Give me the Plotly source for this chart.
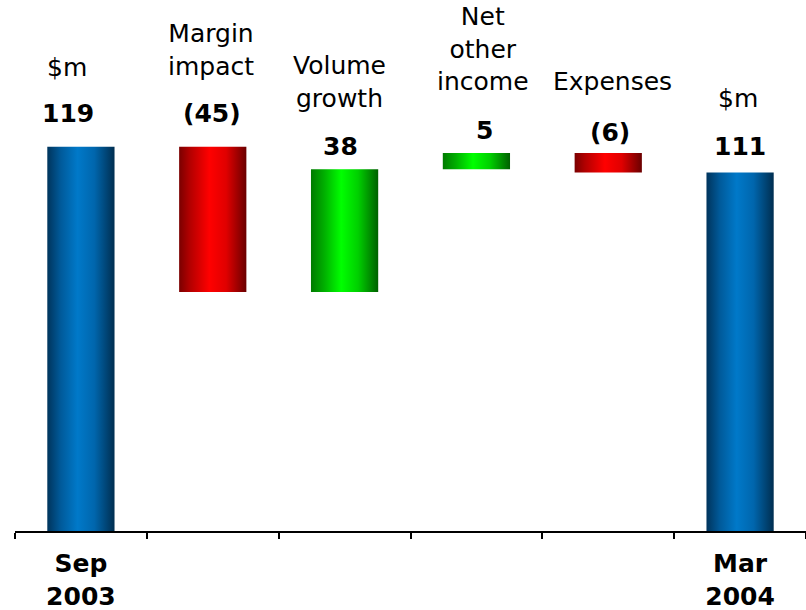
import plotly.graph_objects as go

# Bridge of profit from Sep 2003 to Mar 2004 ($m)
categories = ["Sep 2003", "Margin impact", "Volume growth", "Net other income", "Expenses", "Mar 2004"]
header_labels = ["$m", "Margin<br>impact", "Volume<br>growth", "Net<br>other<br>income", "Expenses", "$m"]
axis_labels = ["<b>Sep</b><br><b>2003</b>", "", "", "", "", "<b>Mar</b><br><b>2004</b>"]
opening = 119
movements = [-45, 38, 5, -6]
closing = 111

FONT = "DejaVu Sans"
W, H = 806, 610
PLOT_H = 531  # pixel height of the plotting area (axis line sits at its bottom)

BLUE = [[0, "#00345c"], [0.2, "#005a9a"], [0.45, "#0079c9"], [0.7, "#0066ad"], [1, "#002e50"]]
RED = [[0, "#7a0000"], [0.15, "#b00000"], [0.45, "#ff0000"], [0.7, "#e00000"], [1, "#6a0000"]]
GREEN = [[0, "#007a00"], [0.2, "#00b000"], [0.45, "#00ff00"], [0.7, "#00d000"], [1, "#006000"]]

# build (low, high, value, colorscale) for each column
bars = [(0, opening, opening, BLUE)]
running = opening
for d in movements:
    nxt = running + d
    bars.append((min(running, nxt), max(running, nxt), d, GREEN if d > 0 else RED))
    running = nxt
bars.append((0, closing, closing, BLUE))

half = 0.255
fig = go.Figure()
for i, (lo, hi, val, cs) in enumerate(bars):
    fig.add_trace(go.Scatter(
        x=[i - half, i + half, i + half, i - half, i - half],
        y=[lo, lo, hi, hi, lo],
        mode="lines", fill="toself",
        fillgradient=dict(type="horizontal", colorscale=cs),
        line=dict(width=0, color="rgba(0,0,0,0)"),
        hoverinfo="skip", showlegend=False,
    ))


def fmt(v):
    return f"({abs(v)})" if v < 0 else str(v)


def py(pix):
    return 1 - pix / PLOT_H


value_centres = [113, 113, 146, 130, 132, 146]
header_bottoms = [84, 83, 115, 98, 98, 115]
header_shift = [-14, -2, -5, 7, 4, -2]
value_shift = [-13, -1, -4, 8, 2, 0]

for i, (lo, hi, val, cs) in enumerate(bars):
    fig.add_annotation(x=i, y=py(value_centres[i]), xref="x", yref="paper",
                       text=f"<b>{fmt(val)}</b>", showarrow=False, xshift=value_shift[i],
                       yanchor="middle", font=dict(family=FONT, size=25, color="black"))
    fig.add_annotation(x=i, y=py(header_bottoms[i]), xref="x", yref="paper",
                       text=header_labels[i], showarrow=False, xshift=header_shift[i],
                       yanchor="bottom", font=dict(family=FONT, size=25, color="black"))

fig.update_layout(
    width=W, height=H,
    margin=dict(l=15, r=0, t=0, b=H - PLOT_H, autoexpand=False),
    paper_bgcolor="white", plot_bgcolor="white",
    xaxis=dict(
        range=[-0.5, 5.5], tickvals=list(range(len(categories))), ticktext=axis_labels,
        ticks="", showline=True, linecolor="black", linewidth=2, showgrid=False, zeroline=False,
        automargin=False,
        tickfont=dict(family=FONT, size=25, color="black"), ticklabelstandoff=9,
        minor=dict(tickvals=[k - 0.5 for k in range(len(categories) + 1)], ticks="outside",
                   ticklen=6, tickwidth=2, tickcolor="black", showgrid=False),
    ),
    yaxis=dict(range=[0, PLOT_H / 3.23], visible=False, automargin=False),
)

fig.write_html("out.html")
